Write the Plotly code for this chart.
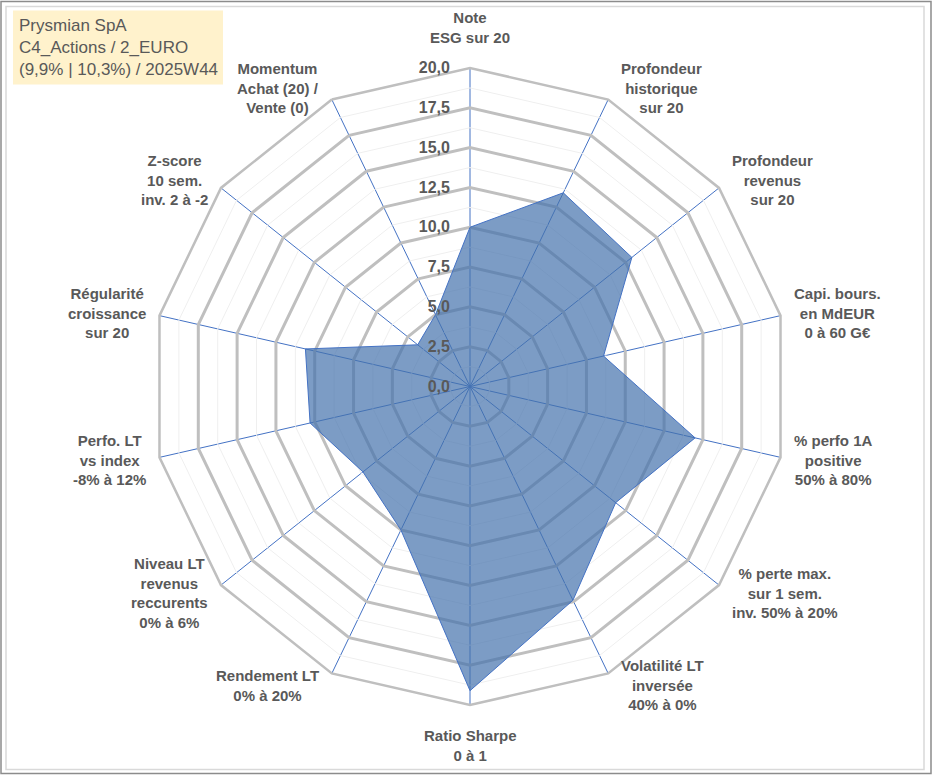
import math
import plotly.graph_objects as go

# axes du radar, dans l'ordre horaire depuis le haut
categories = [
    "Note<br>ESG sur 20",
    "Profondeur<br>historique<br>sur 20",
    "Profondeur<br>revenus<br>sur 20",
    "Capi. bours.<br>en MdEUR<br>0 à 60 G€",
    "% perfo 1A<br>positive<br>50% à 80%",
    "% perte max.<br>sur 1 sem.<br>inv. 50% à 20%",
    "Volatilité LT<br>inversée<br>40% à 0%",
    "Ratio Sharpe<br>0 à 1",
    "Rendement LT<br>0% à 20%",
    "Niveau LT<br>revenus<br>reccurents<br>0% à 6%",
    "Perfo. LT<br>vs index<br>-8% à 12%",
    "Régularité<br>croissance<br>sur 20",
    "Z-score<br>10 sem.<br>inv. 2 à -2",
    "Momentum<br>Achat (20) /<br>Vente (0)",
]
scores = [10.0, 13.5, 13.0, 8.6, 14.5, 11.7, 14.9, 19.1, 10.0, 8.6, 10.3, 10.6, 4.2, 5.0]
radial_ticks = [0, 2.5, 5, 7.5, 10, 12.5, 15, 17.5, 20]
title_lines = ["Prysmian SpA", "C4_Actions / 2_EURO", "(9,9% | 10,3%) / 2025W44"]

W, H = 933, 776
CX, CY, RAD = 470, 386.5, 319
L, R, T, B = 10, W - 10 - 2 * (CX - 10), CY - RAD, H - CY - RAD
LABEL_FONT = dict(family="Liberation Sans", size=15, color="#595959", weight="bold")


def px(x):
    return (x - L) / (W - L - R)


def py(y):
    return 1 - (y - T) / (H - T - B)


fig = go.Figure()

# anneaux secondaires (entre les graduations principales)
for i in range(len(radial_ticks) - 1):
    mid = (radial_ticks[i] + radial_ticks[i + 1]) / 2
    fig.add_trace(go.Scatterpolar(
        r=[mid] * (len(categories) + 1), theta=categories + [categories[0]],
        mode="lines", line=dict(color="#EFEFEF", width=1),
        hoverinfo="skip", showlegend=False))

fig.add_trace(go.Scatterpolar(
    r=scores + [scores[0]], theta=categories + [categories[0]],
    mode="lines", fill="toself", fillcolor="rgba(68,114,172,0.7)",
    line=dict(color="#4472C4", width=1), name="Prysmian SpA", showlegend=False))

# libellés des axes, placés à côté de chaque sommet
annotations = []
n = len(categories)
for k, label in enumerate(categories):
    th = 2 * math.pi * k / n
    sx, sy = math.sin(th), math.cos(th)
    vx, vy = CX + RAD * sx, CY - RAD * sy
    if k == 0:
        a = dict(x=px(vx), y=py(vy - 20), xanchor="center", yanchor="bottom")
    elif 2 * k == n:
        a = dict(x=px(vx), y=py(vy + 20), xanchor="center", yanchor="top")
    else:
        a = dict(x=px(vx + (11 if sx > 0 else -11)), y=py(vy - 13 * sy),
                 xanchor="left" if sx > 0 else "right", yanchor="middle")
    a.update(text=label, xref="paper", yref="paper", showarrow=False,
             align="center", font=LABEL_FONT)
    annotations.append(a)

annotations.append(dict(
    text="<br>".join(title_lines), xref="paper", yref="paper",
    x=px(17), y=py(13), xanchor="left", yanchor="top", align="left",
    showarrow=False, font=dict(family="Liberation Sans", size=17, color="#595959")))

fig.update_layout(
    width=W, height=H,
    margin=dict(l=L, r=R, t=T, b=B),
    paper_bgcolor="white",
    separators=", ",
    polar=dict(
        bgcolor="white",
        gridshape="linear",
        radialaxis=dict(
            range=[0, 20], tickvals=radial_ticks, tickformat=".1f",
            angle=90, side="counterclockwise", tickangle=90,
            showline=False, ticks="outside", ticklen=14, tickcolor="rgba(0,0,0,0)",
            gridcolor="#BFBFBF", gridwidth=2.5,
            tickfont=dict(family="Liberation Sans", size=16, color="#595959", weight="bold"),
        ),
        angularaxis=dict(
            direction="clockwise", rotation=90,
            showline=True, linecolor="#BFBFBF", linewidth=2.5,
            gridcolor="#4472C4", gridwidth=1.4,
            showticklabels=False, ticks="",
        ),
    ),
    shapes=[
        dict(type="rect", xref="paper", yref="paper",
             x0=px(1), x1=px(931), y0=py(1), y1=py(774),
             line=dict(color="#8C8C8C", width=1.5), fillcolor="rgba(0,0,0,0)", layer="below"),
        dict(type="rect", xref="paper", yref="paper",
             x0=px(6), x1=px(924), y0=py(6), y1=py(770),
             line=dict(color="#D9D9D9", width=1.5), fillcolor="rgba(0,0,0,0)", layer="below"),
        dict(type="rect", xref="paper", yref="paper",
             x0=px(13), x1=px(223), y0=py(10), y1=py(84),
             line=dict(width=0), fillcolor="#FFF2CC", layer="below"),
    ],
    annotations=annotations,
)

fig.write_html("out.html", config={"displayModeBar": False},
               post_script="document.body.style.margin='0px';")
